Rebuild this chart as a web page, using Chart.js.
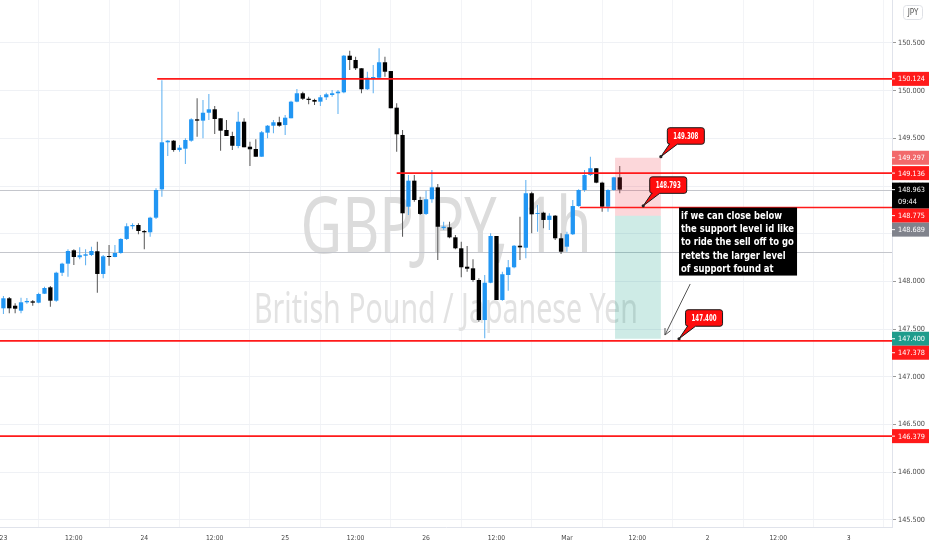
<!DOCTYPE html>
<html><head><meta charset="utf-8">
<script src="https://cdn.jsdelivr.net/npm/chart.js@4.4.1/dist/chart.umd.min.js"></script>
<style>html,body{margin:0;padding:0;background:#fff;overflow:hidden}canvas{display:block}</style>
</head><body>
<canvas id="c" width="932" height="550" style="width:932px;height:550px"></canvas>
<script>
// ---------- DATA (GBPJPY 1h candles) ----------
const opens = [147.719,147.824,147.746,147.694,147.782,147.792,147.778,147.872,147.939,147.799,
148.092,148.187,148.327,148.254,148.270,148.278,148.317,148.079,148.267,148.257,
148.299,148.446,148.579,148.592,148.529,148.516,148.669,148.966,149.459,149.476,
149.378,149.392,149.476,149.700,149.686,149.769,149.805,149.711,149.588,149.525,
149.420,149.675,149.413,149.389,149.308,149.560,149.633,149.669,149.640,149.711,
149.885,149.973,149.916,149.903,149.885,149.931,149.955,149.973,149.983,150.367,
150.322,150.235,150.015,150.133,150.136,150.298,150.206,149.822,149.536,148.784,
149.057,148.854,148.708,148.862,148.987,148.560,148.568,148.463,148.348,148.155,
148.138,148.016,147.596,147.987,148.477,147.806,148.068,148.149,148.375,148.354,
148.925,148.708,148.721,148.645,148.690,148.453,148.365,148.495,148.791,148.959,
149.116,149.187,149.036,148.784,148.959,149.092];
const highs = [147.848,147.838,147.771,147.830,147.827,147.806,147.883,147.945,147.953,148.103,
148.197,148.338,148.338,148.358,148.338,148.365,148.417,148.278,148.383,148.383,
148.453,148.610,148.610,148.610,148.540,148.679,148.977,150.110,149.483,149.483,
149.431,149.501,149.711,149.920,149.903,149.965,149.840,149.711,149.693,149.570,
149.780,149.711,149.465,149.491,149.578,149.640,149.693,149.727,149.745,149.895,
150.018,149.990,149.937,149.916,149.955,149.979,150.007,150.007,150.374,150.419,
150.356,150.235,150.199,150.269,150.444,150.356,150.206,149.868,149.588,149.116,
149.116,148.889,148.952,149.169,149.022,148.627,148.627,148.487,148.417,148.372,
148.233,148.034,148.068,148.505,148.477,148.103,148.225,148.383,148.679,149.064,
148.941,148.802,148.732,148.715,148.697,148.505,148.522,148.854,148.966,149.169,
149.308,149.187,149.046,148.966,149.099,149.211];
const lows = [147.659,147.667,147.667,147.667,147.767,147.746,147.771,147.869,147.736,147.788,
148.058,148.050,148.173,148.233,148.170,148.267,147.883,148.034,148.166,148.254,
148.291,148.435,148.547,148.495,148.338,148.470,148.655,148.889,149.316,149.361,
149.361,149.232,149.465,149.518,149.501,149.693,149.546,149.371,149.525,149.378,
149.396,149.407,149.211,149.308,149.308,149.501,149.553,149.623,149.536,149.711,
149.878,149.903,149.857,149.850,149.840,149.903,149.937,149.756,149.973,150.217,
150.217,149.973,150.007,149.973,150.130,150.147,149.816,149.361,148.470,148.697,
148.836,148.697,148.697,148.826,148.225,148.540,148.453,148.338,148.044,148.103,
147.998,147.579,147.405,147.981,147.806,147.799,147.904,148.138,148.225,148.243,
148.505,148.522,148.558,148.540,148.435,148.288,148.312,148.487,148.784,148.941,
149.106,149.029,148.732,148.732,148.952,148.925];
const closes = [147.824,147.719,147.715,147.782,147.796,147.778,147.869,147.932,147.799,148.092,
148.187,148.320,148.257,148.275,148.285,148.320,148.079,148.264,148.257,148.299,
148.446,148.579,148.592,148.529,148.516,148.669,148.959,149.459,149.476,149.378,
149.403,149.483,149.700,149.686,149.769,149.805,149.703,149.581,149.525,149.423,
149.675,149.407,149.386,149.308,149.564,149.633,149.669,149.633,149.717,149.885,
149.973,149.916,149.903,149.885,149.931,149.962,149.973,149.990,150.367,150.322,
150.235,150.015,150.136,150.140,150.298,150.199,149.816,149.543,148.715,149.057,
148.854,148.708,148.862,148.987,148.574,148.575,148.463,148.348,148.149,148.134,
148.016,147.596,147.987,148.477,147.806,148.076,148.149,148.375,148.358,148.925,
148.704,148.718,148.645,148.690,148.453,148.312,148.495,148.791,148.959,149.116,
149.187,149.036,148.784,148.959,149.092,148.963];

const xTickIdx    = [0,12,24,36,48,60,72,84,96,108,120,132,144];
const xTickLabels = ['23','12:00','24','12:00','25','12:00','26','12:00','Mar','12:00','2','12:00','3'];
const yTickValues = [145.5,146,146.5,147,147.5,148,148.5,149,149.5,150,150.5];

// drawn levels (price) and where each ray starts (candle index; null = whole width)
const redLevels     = [150.124, 149.136, 148.775, 147.378, 146.379];
const redLevelStart = [26.2, 67.0, 98.2, null, null];
const grayLevels    = [148.963, 148.309];
const lastPrice = 148.963, countdown = '09:44';

// short position tool
const posEntry = 148.689, posStop = 149.297, posTarget = 147.400;
const posFrom = 104.2, posTo = 112.0;

// price callouts: [candle index, price]
const calloutIdx    = [112.0, 109.0, 115.1];
const calloutPrices = [149.308, 148.793, 147.400];

const noteLines = ['if we can close below','the support level id like','to ride the sell off to go','retets the larger level','of support found at'];
const noteAt = [115.1, 148.775];
const arrowFrom = [117.0, 147.974], arrowTo = [112.7, 147.439];

const axisLabels = [
  {v:150.124, bg:'#ff1a1a'}, {v:149.297, bg:'#f2696b'}, {v:149.136, bg:'#ff1a1a'},
  {v:148.963, bg:'#000000', extra: countdown}, {v:148.775, bg:'#ff1a1a'},
  {v:148.689, bg:'#80838c'}, {v:147.400, bg:'#1e9c8c'}, {v:147.378, bg:'#ff1a1a'},
  {v:146.379, bg:'#ff1a1a'}
];

// ---------- helpers ----------
const NARROW = "'Liberation Sans Narrow','Arial Narrow','DejaVu Sans Condensed',sans-serif";
const mctx = document.createElement('canvas').getContext('2d');
function sizeFor(family, weight, text, targetW, base) {
  mctx.font = weight + ' ' + base + 'px ' + family;
  return base * targetW / mctx.measureText(text).width;
}
const yTickSize = sizeFor(NARROW, 'normal', '150.500', 27, 10);
const xTickSize = sizeFor(NARROW, 'normal', '12:00', 17.5, 10);

function fitText(ctx, text, x, y, font, scaleX, align) {
  ctx.save();
  ctx.font = font;
  ctx.translate(x, y);
  ctx.scale(scaleX, 1);
  ctx.textAlign = align || 'left';
  ctx.fillText(text, 0, 0);
  ctx.restore();
}
function scaleFor(ctx, font, text, targetW) {
  ctx.save(); ctx.font = font; const w = ctx.measureText(text).width; ctx.restore();
  return targetW / w;
}

const BLUE = '#2196f3', BLUE_W = '#5aaef0', BLACK = '#000000', BLACK_W = '#555555';
const idx = opens.map((_, i) => i);
const isUp = idx.map(i => closes[i] >= opens[i]);

const bodies = {
  label: 'body', grouped: false, barThickness: 4.3, minBarLength: 1, inflateAmount: 0, borderWidth: 0,
  data: idx.map(i => ({x: i, y: [opens[i], closes[i]]})),
  backgroundColor: idx.map(i => isUp[i] ? BLUE : BLACK)
};
const wicks = {
  label: 'wick', grouped: false, barThickness: 1, minBarLength: 1, inflateAmount: 0, borderWidth: 0,
  data: idx.map(i => ({x: i, y: [lows[i], highs[i]]})),
  backgroundColor: idx.map(i => isUp[i] ? BLUE_W : BLACK_W)
};

const overlay = {
  id: 'overlay',
  beforeDatasetsDraw(chart) {
    const {ctx, chartArea: a, scales: {x, y}} = chart;
    ctx.save();
    ctx.beginPath(); ctx.rect(a.left, a.top, a.width, a.height); ctx.clip();
    // watermark
    const cx = (a.left + a.right) / 2;
    ctx.fillStyle = '#dcdcdc';
    ctx.textBaseline = 'alphabetic';
    let f1 = "78px 'Noto Sans', sans-serif";
    fitText(ctx, 'GBPJPY, 1h', cx, 253, f1, scaleFor(ctx, f1, 'GBPJPY, 1h', 291), 'center');
    ctx.fillStyle = '#e2e2e2';
    let f2 = "41px 'Noto Sans', sans-serif";
    fitText(ctx, 'British Pound / Japanese Yen', cx, 323, f2, scaleFor(ctx, f2, 'British Pound / Japanese Yen', 384), 'center');
    // gray levels
    ctx.strokeStyle = '#c4c6cc'; ctx.lineWidth = 1;
    grayLevels.forEach(v => {
      const py = Math.round(y.getPixelForValue(v)) + 0.5;
      ctx.beginPath(); ctx.moveTo(a.left, py); ctx.lineTo(a.right, py); ctx.stroke();
    });
    ctx.restore();
  },
  afterDatasetsDraw(chart) {
    const {ctx, chartArea: a, scales: {x, y}} = chart;
    ctx.save();
    ctx.beginPath(); ctx.rect(a.left, a.top, a.width, a.height); ctx.clip();
    // position tool
    const x0 = x.getPixelForValue(posFrom), x1 = x.getPixelForValue(posTo);
    const yS = y.getPixelForValue(posStop), yE = y.getPixelForValue(posEntry), yT = y.getPixelForValue(posTarget);
    ctx.fillStyle = 'rgba(242,54,69,0.2)'; ctx.fillRect(x0, yS, x1 - x0, yE - yS);
    ctx.fillStyle = 'rgba(8,153,129,0.2)'; ctx.fillRect(x0, yE, x1 - x0, yT - yE);
    // red levels
    ctx.strokeStyle = '#ff1a1a'; ctx.lineWidth = 1.6;
    redLevels.forEach((v, k) => {
      const py = y.getPixelForValue(v);
      const sx = redLevelStart[k] == null ? a.left : x.getPixelForValue(redLevelStart[k]);
      ctx.beginPath(); ctx.moveTo(sx, py); ctx.lineTo(a.right, py); ctx.stroke();
    });
    // arrow
    const ax0 = x.getPixelForValue(arrowFrom[0]), ay0 = y.getPixelForValue(arrowFrom[1]);
    const ax1 = x.getPixelForValue(arrowTo[0]), ay1 = y.getPixelForValue(arrowTo[1]);
    ctx.strokeStyle = '#555'; ctx.lineWidth = 1;
    ctx.beginPath(); ctx.moveTo(ax0, ay0); ctx.lineTo(ax1, ay1); ctx.stroke();
    const ang = Math.atan2(ay1 - ay0, ax1 - ax0);
    ctx.beginPath();
    ctx.moveTo(ax1 - 7 * Math.cos(ang - 0.45), ay1 - 7 * Math.sin(ang - 0.45));
    ctx.lineTo(ax1, ay1);
    ctx.lineTo(ax1 - 7 * Math.cos(ang + 0.45), ay1 - 7 * Math.sin(ang + 0.45));
    ctx.stroke();
    // note
    const nx = x.getPixelForValue(noteAt[0]), ny = y.getPixelForValue(noteAt[1]);
    ctx.fillStyle = '#000'; ctx.fillRect(nx, ny, 118, 68);
    ctx.fillStyle = '#fff'; ctx.textBaseline = 'middle';
    const nf = "bold 11px " + NARROW;
    let longest = 0;
    ctx.font = nf;
    noteLines.forEach(t => { longest = Math.max(longest, ctx.measureText(t).width); });
    const ns = Math.min(1.2, 113 / longest);
    noteLines.forEach((t, k) => fitText(ctx, t, nx + 2, ny + 8.5 + k * 13.2, nf, ns, 'left'));
    // callouts
    const cf = "bold 9px " + NARROW;
    const cs = scaleFor(ctx, cf, '149.308', 25);
    calloutPrices.forEach((v, k) => {
      const px = x.getPixelForValue(calloutIdx[k]), py = y.getPixelForValue(v);
      const bx = px + 6.5, by = py - 29, w = 37, h = 16.5, r = 2.5;
      ctx.beginPath();
      ctx.moveTo(bx + r, by);
      ctx.lineTo(bx + w - r, by); ctx.arcTo(bx + w, by, bx + w, by + r, r);
      ctx.lineTo(bx + w, by + h - r); ctx.arcTo(bx + w, by + h, bx + w - r, by + h, r);
      ctx.lineTo(bx + 10, by + h);
      ctx.lineTo(px, py);
      ctx.lineTo(bx + 2, by + h);
      ctx.lineTo(bx + r, by + h); ctx.arcTo(bx, by + h, bx, by + h - r, r);
      ctx.lineTo(bx, by + r); ctx.arcTo(bx, by, bx + r, by, r);
      ctx.closePath();
      ctx.fillStyle = '#ff0d0d'; ctx.fill();
      ctx.strokeStyle = '#1a1a1a'; ctx.lineWidth = 1; ctx.stroke();
      ctx.beginPath(); ctx.arc(px, py, 1.6, 0, Math.PI * 2); ctx.fillStyle = '#222'; ctx.fill();
      ctx.fillStyle = '#fff'; ctx.textBaseline = 'middle';
      fitText(ctx, v.toFixed(3), bx + w / 2, by + h / 2 + 0.5, cf, cs, 'center');
    });
    ctx.restore();
  },
  afterDraw(chart) {
    const {ctx, chartArea: a, scales: {y}} = chart;
    ctx.save();
    // axis price labels with de-overlap
    const lf = yTickSize.toFixed(2) + 'px ' + NARROW;
    const items = axisLabels.map(o => ({...o, py: y.getPixelForValue(o.v)})).sort((p, q) => p.py - q.py);
    let prevBottom = -1e9;
    const H = 14;
    items.forEach(o => {
      const hh = o.extra ? 26 : H;
      let top = Math.max(o.py - H / 2, prevBottom);
      prevBottom = top + hh;
      const lx = a.right;
      ctx.fillStyle = o.bg;
      ctx.fillRect(lx, top, 37, hh);
      ctx.strokeStyle = '#fff'; ctx.lineWidth = 1;
      ctx.beginPath(); ctx.moveTo(lx, top + H / 2); ctx.lineTo(lx + 3, top + H / 2); ctx.stroke();
      ctx.fillStyle = '#fff'; ctx.textBaseline = 'middle'; ctx.font = lf; ctx.textAlign = 'left';
      ctx.fillText(o.v.toFixed(3), lx + 6, top + H / 2 + 0.5);
      if (o.extra) ctx.fillText(o.extra, lx + 6, top + H / 2 + 12);
    });
    // currency button
    ctx.strokeStyle = '#dfe1e6'; ctx.lineWidth = 1;
    ctx.beginPath();
    if (ctx.roundRect) ctx.roundRect(903.5, 5.5, 19, 14, 3); else ctx.rect(903.5, 5.5, 19, 14);
    ctx.stroke();
    ctx.fillStyle = '#555'; ctx.textAlign = 'center'; ctx.textBaseline = 'middle';
    fitText(ctx, 'JPY', 913, 13, '8px ' + NARROW, 1, 'center');
    ctx.restore();
  }
};

new Chart(document.getElementById('c'), {
  type: 'bar',
  data: { datasets: [bodies, wicks] },
  options: {
    responsive: false, animation: false, maintainAspectRatio: false,
    layout: { padding: 0 },
    plugins: { legend: { display: false }, tooltip: { enabled: false } },
    scales: {
      x: {
        type: 'linear', min: -0.58, max: 151.38, offset: false,
        grid: { color: '#f3f4f7', drawTicks: false },
        border: { color: '#e0e3eb' },
        ticks: {
          autoSkip: false, maxRotation: 0, padding: 7, color: '#444',
          font: { family: NARROW, size: xTickSize },
          callback: v => { const k = xTickIdx.indexOf(v); return k >= 0 ? xTickLabels[k] : ''; }
        },
        afterBuildTicks: s => { s.ticks = xTickIdx.map(v => ({ value: v })); },
        afterFit: s => { s.height = 23; s.paddingLeft = 0; s.paddingRight = 0; }
      },
      y: {
        position: 'right', min: 145.4266, max: 150.9507,
        grid: { color: '#eff1f5', tickLength: 4, tickColor: '#9a9a9a' },
        border: { color: '#e0e3eb' },
        ticks: {
          padding: 2, color: '#4a4a4a',
          font: { family: NARROW, size: yTickSize },
          callback: v => Number(v).toFixed(3)
        },
        afterBuildTicks: s => { s.ticks = yTickValues.map(v => ({ value: v })); },
        afterFit: s => { s.width = 40; s.paddingTop = 0; s.paddingBottom = 0; }
      }
    }
  },
  plugins: [overlay]
});
</script>
</body></html>
